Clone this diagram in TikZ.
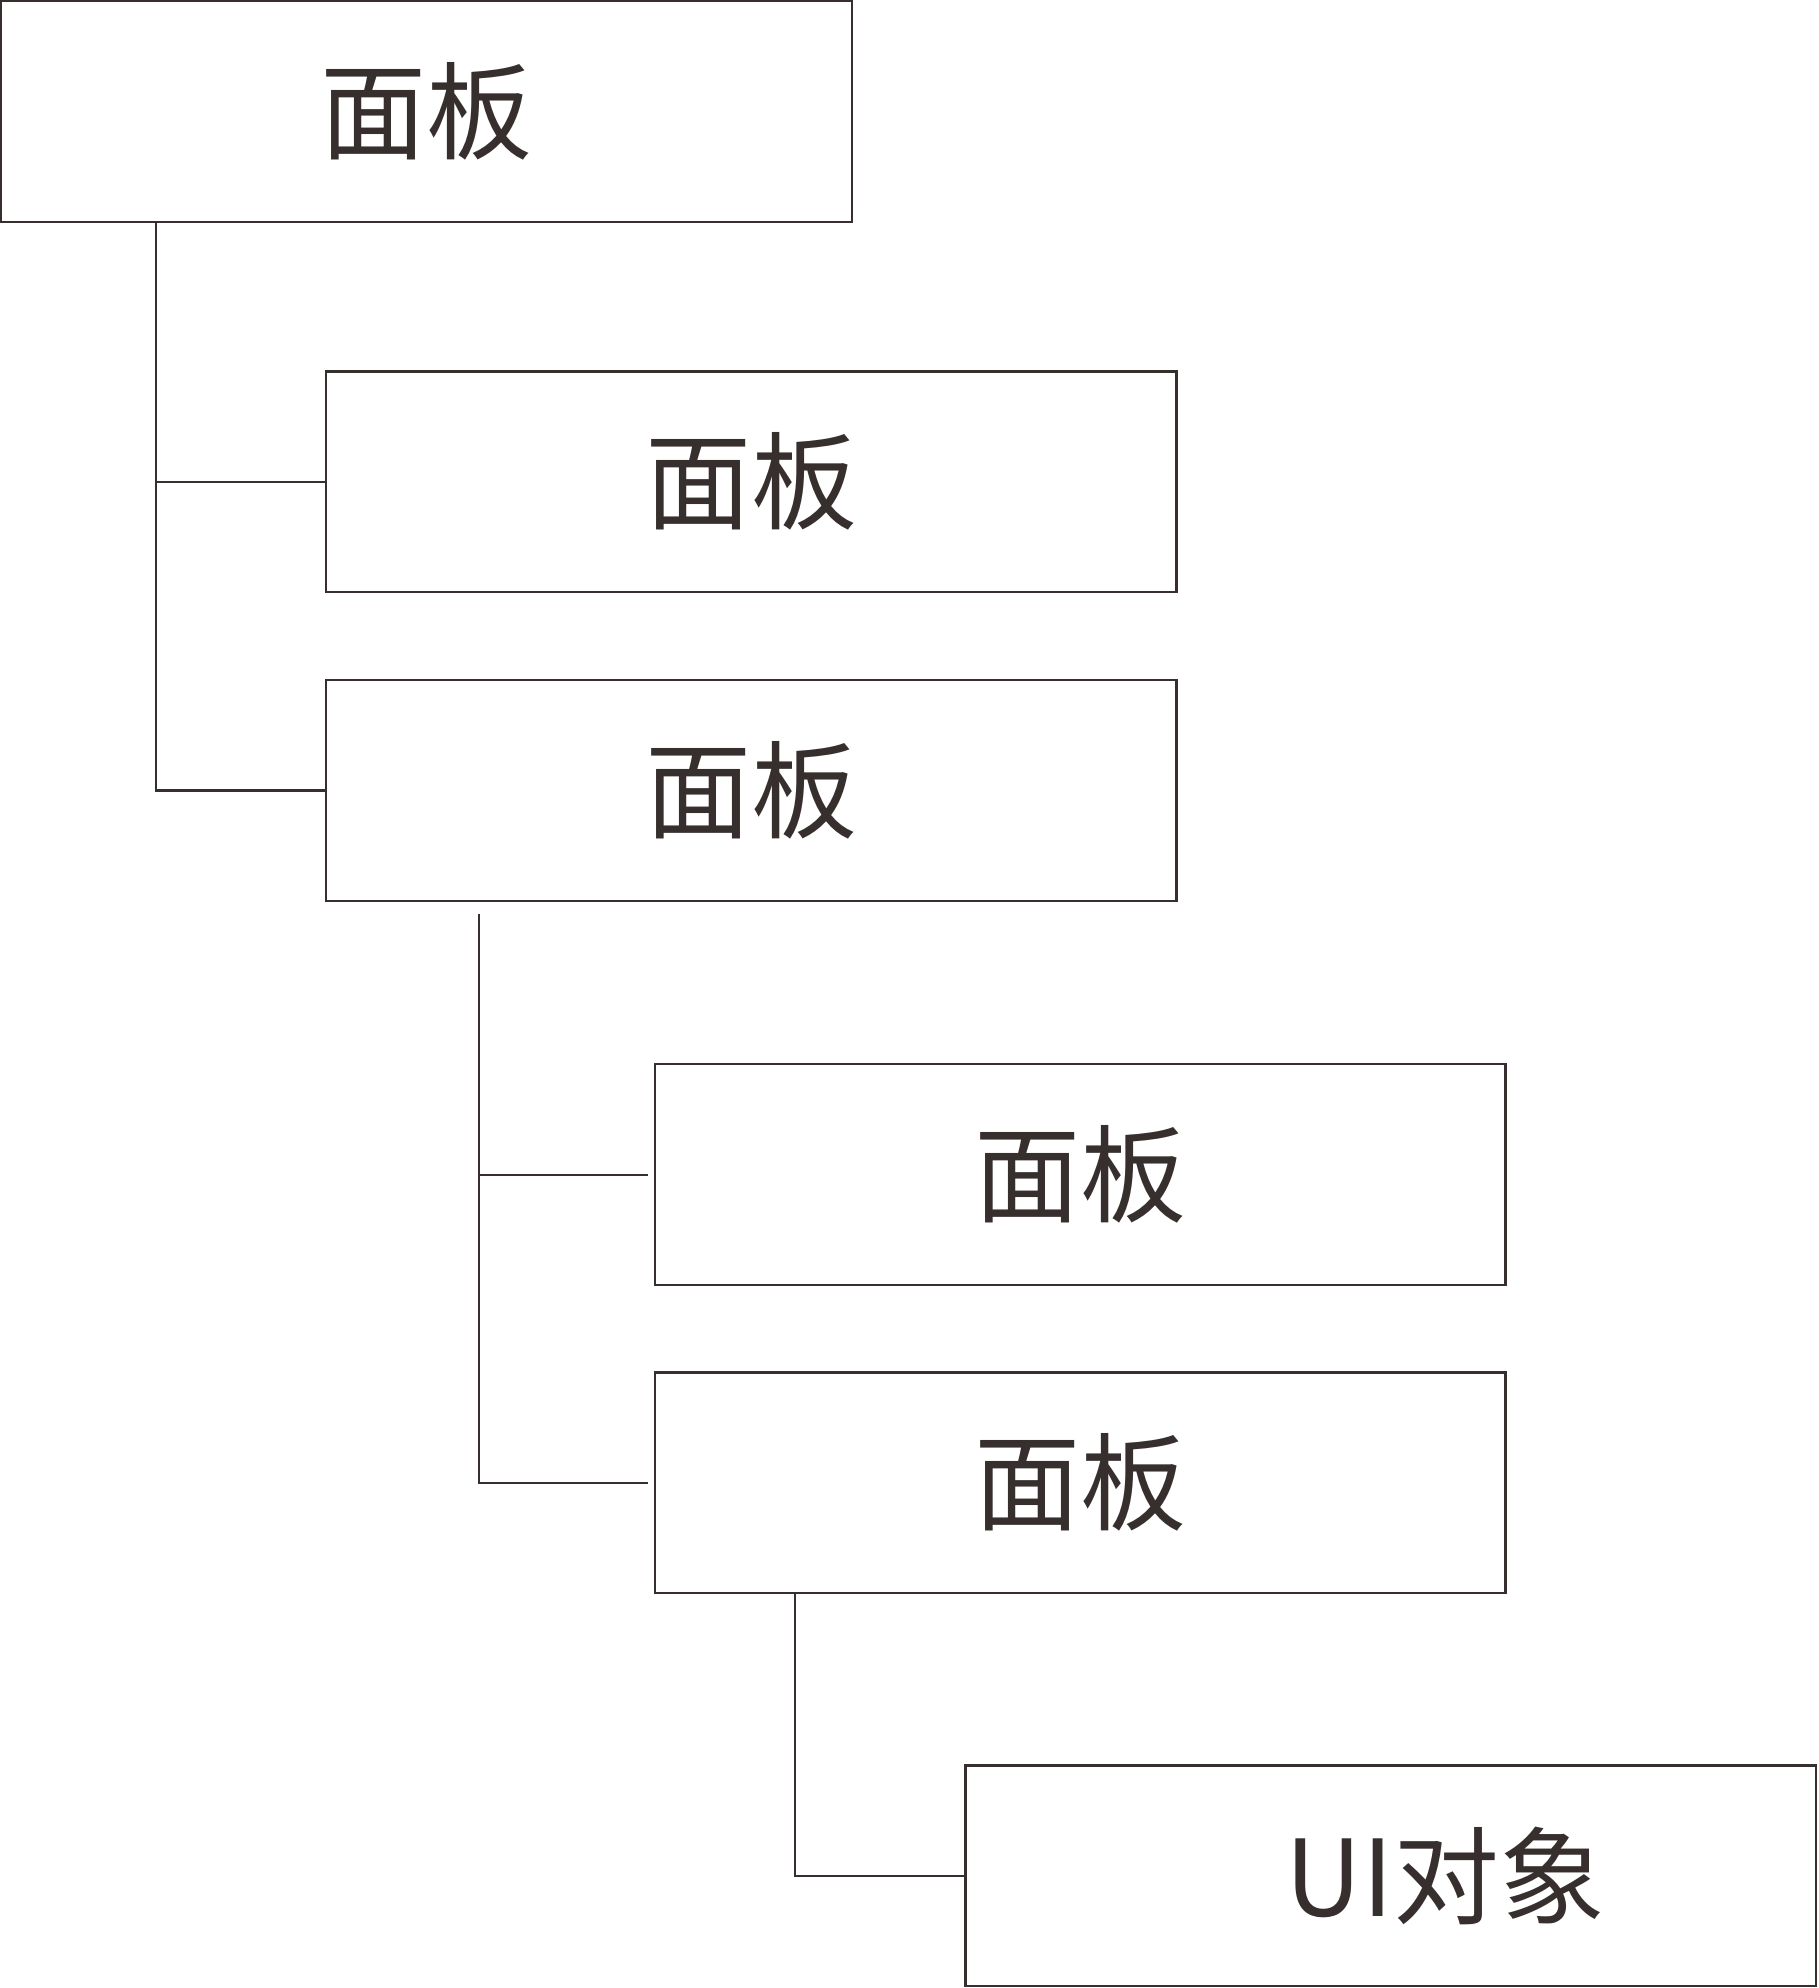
\documentclass[tikz,border=0pt]{standalone}
\usepackage{fontspec}
\newfontfamily\cjk{Noto Sans CJK SC}
\definecolor{ink}{HTML}{362F2E}
\begin{document}
\begin{tikzpicture}[x=0.6339pt,y=-0.6339pt,
  box/.style={draw=ink,line width=1.1pt,rectangle,minimum width=425.35pt,minimum height=110.3pt,inner sep=0pt,outer sep=0pt,text=ink,font=\cjk\fontsize{53}{53}\selectfont},
  lbl/.style={text=ink,inner sep=0pt,font=\cjk\fontsize{53}{53}\selectfont},
  conn/.style={draw=ink,line width=1.1pt}]
\useasboundingbox (0,0) rectangle (1434,1568);
\node[box] (b1) at (336.5,88) {面板};
\node[box] (b2) at (592.5,380) {面板};
\node[box] (b3) at (592.5,623.5) {面板};
\node[box] (b4) at (852,926.5) {面板};
\node[box] (b5) at (852,1169.5) {面板};
\node[box] (b6) at (1097,1479.5) {};
\node[lbl] (t6) at (1140,1479.5) {UI对象};
\coordinate (c1) at (123,0);
\coordinate (v2) at (378,721);
\coordinate (c3) at (627,0);
\draw[conn] (b1.south -| c1) |- (b3.west);
\draw[conn] (b2.west) -- (b2.west -| c1);
\draw[conn] (v2) |- ([xshift=-3.2pt]b5.west);
\draw[conn] (v2 |- b4.west) -- ([xshift=-3.2pt]b4.west);
\draw[conn] (b5.south -| c3) |- (b6.west);
\end{tikzpicture}
\end{document}
